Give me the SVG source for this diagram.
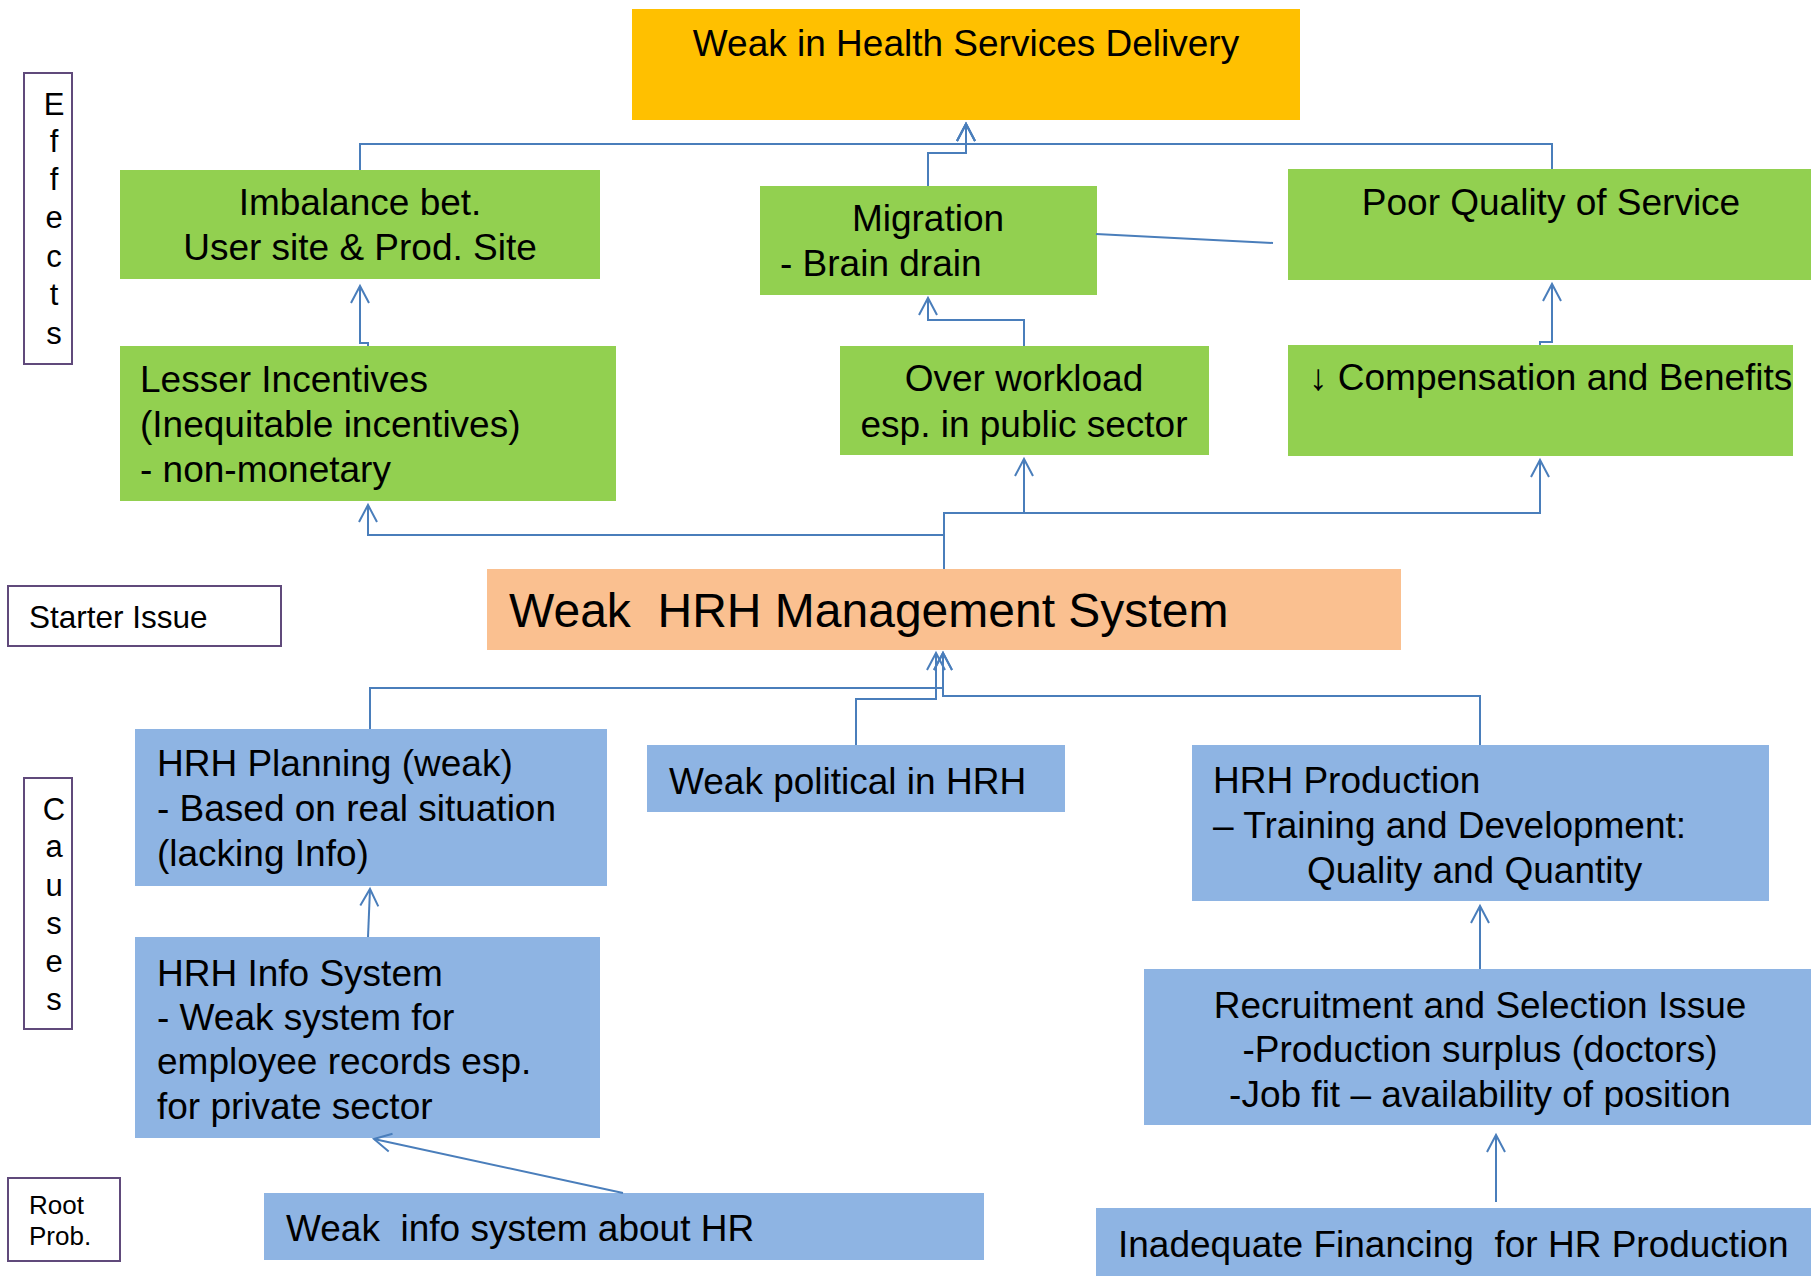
<svg xmlns="http://www.w3.org/2000/svg" width="1811" height="1276" viewBox="0 0 1811 1276">
<style>
  text { font-family: "Liberation Sans", Arial, sans-serif; fill: #000; white-space: pre; }
  .t { font-size: 37px; }
  .c { text-anchor: middle; }
  .green { fill: #92D050; }
  .blue { fill: #8EB4E3; }
  .lab { fill: #FFFFFF; stroke: #604A7B; stroke-width: 2; }
  .lt { font-size: 31px; text-anchor: middle; }
  .conn path { fill: none; stroke: #4A7EBB; stroke-width: 2; }
  .arr { marker-end: url(#ah); }
</style>
<defs>
  <marker id="ah" markerUnits="userSpaceOnUse" viewBox="-20 -12 24 24" refX="0" refY="0" markerWidth="24" markerHeight="24" orient="auto" overflow="visible">
    <path d="M-17,-9 L0,0 L-17,9" fill="none" stroke="#4A7EBB" stroke-width="2"/>
  </marker>
</defs>
<rect width="1811" height="1276" fill="#FFFFFF"/>

<g id="effects-label">
  <rect class="lab" x="24" y="73" width="48" height="291"/>
  <text class="lt" x="54" y="115">E</text>
  <text class="lt" x="54" y="152">f</text>
  <text class="lt" x="54" y="190">f</text>
  <text class="lt" x="54" y="228">e</text>
  <text class="lt" x="54" y="267">c</text>
  <text class="lt" x="54" y="305">t</text>
  <text class="lt" x="54" y="344">s</text>
</g>

<g id="causes-label">
  <rect class="lab" x="24" y="778" width="48" height="251"/>
  <text class="lt" x="54" y="820">C</text>
  <text class="lt" x="54" y="857">a</text>
  <text class="lt" x="54" y="896">u</text>
  <text class="lt" x="54" y="934">s</text>
  <text class="lt" x="54" y="972">e</text>
  <text class="lt" x="54" y="1010">s</text>
</g>

<g id="starter-label">
  <rect class="lab" x="8" y="586" width="273" height="60"/>
  <text x="29" y="628" style="font-size:31.5px">Starter Issue</text>
</g>

<g id="root-label">
  <rect class="lab" x="8" y="1178" width="112" height="83"/>
  <text x="29" y="1214" style="font-size:26px">Root</text>
  <text x="29" y="1245" style="font-size:26px">Prob.</text>
</g>

<g id="top">
  <rect x="632" y="9" width="668" height="111" fill="#FFC000"/>
  <text class="t c" x="966" y="56">Weak in Health Services Delivery</text>
</g>

<g id="imbalance">
  <rect class="green" x="120" y="170" width="480" height="109"/>
  <text class="t c" x="360" y="215">Imbalance bet.</text>
  <text class="t c" x="360" y="260">User site &amp; Prod. Site</text>
</g>

<g id="migration">
  <rect class="green" x="760" y="186" width="337" height="109"/>
  <text class="t c" x="928" y="231">Migration</text>
  <text class="t" x="780" y="276">- Brain drain</text>
</g>

<g id="poor-quality">
  <rect class="green" x="1288" y="169" width="530" height="111"/>
  <text class="t c" x="1551" y="215">Poor Quality of Service</text>
</g>

<g id="lesser-incentives">
  <rect class="green" x="120" y="346" width="496" height="155"/>
  <text class="t" x="140" y="392">Lesser Incentives</text>
  <text class="t" x="140" y="437">(Inequitable incentives)</text>
  <text class="t" x="140" y="482">- non-monetary</text>
</g>

<g id="over-workload">
  <rect class="green" x="840" y="346" width="369" height="109"/>
  <text class="t c" x="1024" y="391">Over workload</text>
  <text class="t c" x="1024" y="437">esp. in public sector</text>
</g>

<g id="compensation">
  <rect class="green" x="1288" y="345" width="505" height="111"/>
  <text class="t" x="1309" y="390">↓ Compensation and Benefits</text>
</g>

<g id="weak-hrh">
  <rect x="487" y="569" width="914" height="81" fill="#FAC090"/>
  <text x="509" y="627" style="font-size:48px">Weak  HRH Management System</text>
</g>

<g id="hrh-planning">
  <rect class="blue" x="135" y="729" width="472" height="157"/>
  <text class="t" x="157" y="776">HRH Planning (weak)</text>
  <text class="t" x="157" y="821">- Based on real situation</text>
  <text class="t" x="157" y="866">(lacking Info)</text>
</g>

<g id="weak-political">
  <rect class="blue" x="647" y="745" width="418" height="67"/>
  <text class="t" x="669" y="794">Weak political in HRH</text>
</g>

<g id="hrh-production">
  <rect class="blue" x="1192" y="745" width="577" height="156"/>
  <text class="t" x="1213" y="793">HRH Production</text>
  <text class="t" x="1213" y="838">– Training and Development:</text>
  <text class="t" x="1307" y="883">Quality and Quantity</text>
</g>

<g id="hrh-info">
  <rect class="blue" x="135" y="937" width="465" height="201"/>
  <text class="t" x="157" y="986">HRH Info System</text>
  <text class="t" x="157" y="1030">- Weak system for</text>
  <text class="t" x="157" y="1074">employee records esp.</text>
  <text class="t" x="157" y="1119">for private sector</text>
</g>

<g id="recruitment">
  <rect class="blue" x="1144" y="969" width="680" height="156"/>
  <text class="t c" x="1480" y="1018">Recruitment and Selection Issue</text>
  <text class="t c" x="1480" y="1062">-Production surplus (doctors)</text>
  <text class="t c" x="1480" y="1107">-Job fit – availability of position</text>
</g>

<g id="weak-info">
  <rect class="blue" x="264" y="1193" width="720" height="67"/>
  <text class="t" x="286" y="1241">Weak  info system about HR</text>
</g>

<g id="inadequate-financing">
  <rect class="blue" x="1096" y="1208" width="730" height="80"/>
  <text class="t" x="1118" y="1257">Inadequate Financing  for HR Production</text>
</g>

<g id="connectors" class="conn">
  <path class="arr" d="M360,170 V144 H966 V124"/>
  <path class="arr" d="M1552,169 V144 H966 V124"/>
  <path class="arr" d="M928,186 V153 H966 V124"/>
  <path class="arr" d="M368,346 V343 H360 V286"/>
  <path class="arr" d="M1024,346 V320 H928 V298"/>
  <path class="arr" d="M1540,345 V342 H1552 V284"/>
  <path class="arr" d="M944,569 V535 H368 V505"/>
  <path class="arr" d="M944,535 V513 H1024 V459"/>
  <path class="arr" d="M1024,513 H1540 V460"/>
  <path d="M1096,234 L1273,243"/>
  <path class="arr" d="M370,729 V688 H943 V653"/>
  <path class="arr" d="M856,745 V699 H936 V653"/>
  <path class="arr" d="M1480,745 V696 H943 V653"/>
  <path class="arr" d="M368,937 L370,889"/>
  <path class="arr" d="M623,1193 L374,1139"/>
  <path class="arr" d="M1480,969 V906"/>
  <path class="arr" d="M1496,1202 V1135"/>
</g>
</svg>
